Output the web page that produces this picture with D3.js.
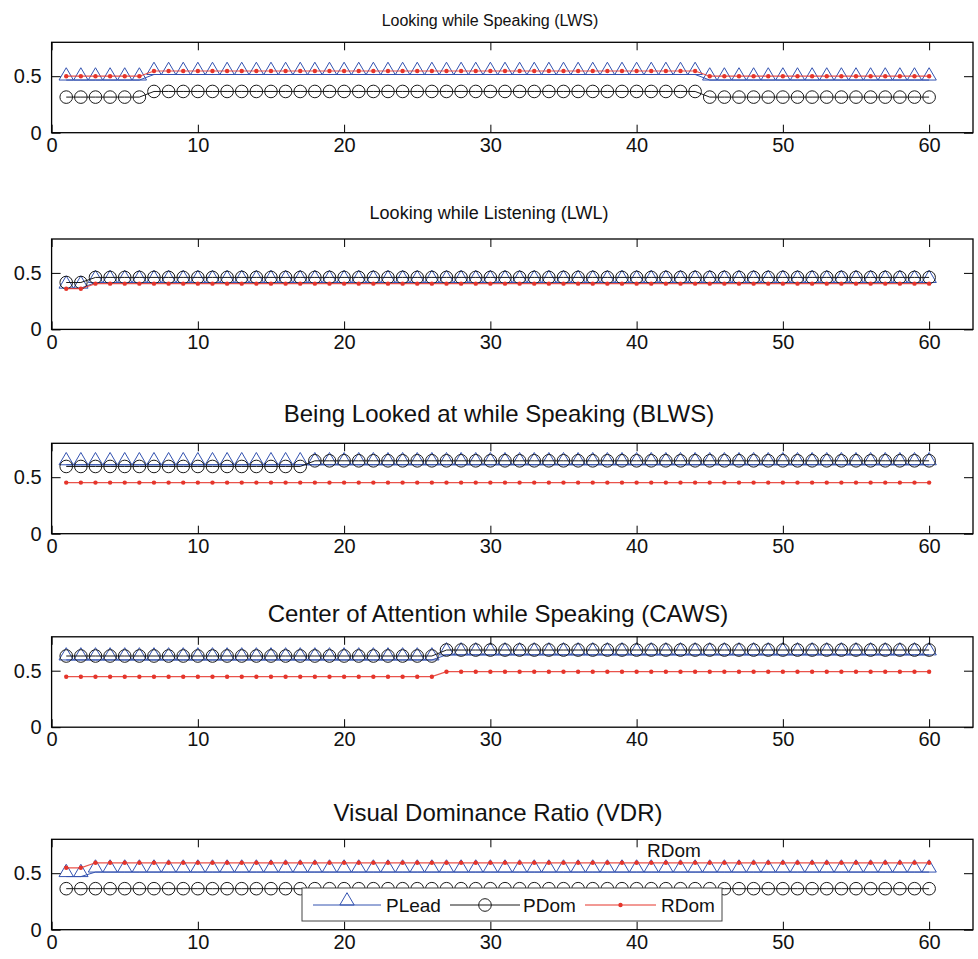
<!DOCTYPE html>
<html>
<head>
<meta charset="utf-8">
<script src="https://cdn.jsdelivr.net/npm/d3@7"></script>
<style>
  body { margin: 0; background: #fff; }
  svg { display: block; }
</style>
</head>
<body>
<script>
// values, stored as runs of [value, count] over x = 1..60
const titles = [
  "Looking while Speaking (LWS)",
  "Looking while Listening (LWL)",
  "Being Looked at while Speaking (BLWS)",
  "Center of Attention while Speaking (CAWS)",
  "Visual Dominance Ratio (VDR)"
];
const xTicks = [0, 10, 20, 30, 40, 50, 60];
const yTicks = [0, 0.5];
const seriesNames = ["PLead", "PDom", "RDom"];

const lwsPLead = [[0.466, 6], [0.515, 38], [0.466, 16]];
const lwsPDom  = [[0.315, 6], [0.365, 38], [0.315, 16]];
const lwsRDom  = [[0.500, 6], [0.546, 38], [0.500, 16]];

const lwlPLead = [[0.365, 2], [0.415, 58]];
const lwlPDom  = [[0.415, 2], [0.460, 58]];
const lwlRDom  = [[0.360, 2], [0.405, 58]];

const blwsPLead = [[0.610, 60]];
const blwsPDom  = [[0.595, 17], [0.645, 43]];
const blwsRDom  = [[0.452, 60]];

const cawsPLead = [[0.595, 26], [0.640, 34]];
const cawsPDom  = [[0.630, 26], [0.683, 34]];
const cawsRDom  = [[0.447, 26], [0.491, 34]];

const vdrPLead = [[0.470, 2], [0.510, 58]];
const vdrPDom  = [[0.363, 60]];
const vdrRDom  = [[0.548, 2], [0.592, 58]];

const panelData = [
  [lwsPLead, lwsPDom, lwsRDom],
  [lwlPLead, lwlPDom, lwlRDom],
  [blwsPLead, blwsPDom, blwsRDom],
  [cawsPLead, cawsPDom, cawsRDom],
  [vdrPLead, vdrPDom, vdrRDom]
];

// layout
const W = 978, H = 959;
const panelTops = [42.3, 239, 443.3, 636.8, 839.3];
const panelH = 90.4;
const left = 51.6, right = 973;
const titleY = [26, 219, 421.5, 621.5, 820.5];
const titleSize = [16, 18, 24, 24, 24];
const titleX = [490, 489, 499, 498, 498];
const font = "'Liberation Sans', Arial, Helvetica, sans-serif";

const blue = "#3352b0", red = "#e5352b", black = "#1a1a1a";

function expand(runs) {
  const out = [];
  let i = 1;
  runs.forEach(([v, n]) => {
    for (let k = 0; k < n; k++) out.push({ i: i++, v: v });
  });
  return out;
}

const svg = d3.select("body").append("svg")
  .attr("width", W)
  .attr("height", H);

const x = d3.scaleLinear().domain([0, 63]).range([left, right]);

function triPath(cx, cy) {
  return `M${cx - 7.2},${cy} L${cx},${cy - 12.3} L${cx + 7.2},${cy} Z`;
}

panelData.forEach((series, p) => {
  const top = panelTops[p];
  const y = d3.scaleLinear().domain([0, 0.8]).range([top + panelH, top]);
  const g = svg.append("g");

  // title
  svg.append("text")
    .attr("x", titleX[p])
    .attr("y", titleY[p])
    .attr("text-anchor", "middle")
    .attr("font-family", font)
    .attr("font-size", titleSize[p] + "px")
    .attr("fill", "#111")
    .text(titles[p]);

  const line = d3.line().x(d => x(d.i)).y(d => y(d.v));

  // PLead
  const pl = expand(series[0]);
  g.append("path").datum(pl)
    .attr("d", line).attr("fill", "none")
    .attr("stroke", blue).attr("stroke-width", 1);
  g.selectAll(".tri").data(pl).join("path")
    .attr("d", d => triPath(x(d.i), y(d.v)))
    .attr("fill", "none").attr("stroke", blue).attr("stroke-width", 1);

  // PDom
  const pd = expand(series[1]);
  g.append("path").datum(pd)
    .attr("d", line).attr("fill", "none")
    .attr("stroke", black).attr("stroke-width", 1);
  g.selectAll(".circ").data(pd).join("circle")
    .attr("cx", d => x(d.i)).attr("cy", d => y(d.v)).attr("r", 6.3)
    .attr("fill", "none").attr("stroke", black).attr("stroke-width", 1);

  // RDom
  const rd = expand(series[2]);
  g.append("path").datum(rd)
    .attr("d", line).attr("fill", "none")
    .attr("stroke", red).attr("stroke-width", 1.2).attr("stroke-opacity", 0.85);
  g.selectAll(".dot").data(rd).join("circle")
    .attr("cx", d => x(d.i)).attr("cy", d => y(d.v)).attr("r", 2.2)
    .attr("fill", red);

  // axes
  const styleAxis = a => {
    a.select(".domain").remove();
    a.selectAll("line").attr("stroke", "#000").attr("stroke-width", 1);
    a.selectAll("text").attr("fill", "#111");
    a.attr("font-family", font).attr("font-size", 20);
  };

  svg.append("g")
    .attr("transform", `translate(0,${top + panelH})`)
    .call(d3.axisBottom(x).tickValues(xTicks).tickSize(-8).tickPadding(5).tickFormat(d => d))
    .call(styleAxis);
  svg.append("g")
    .attr("transform", `translate(0,${top})`)
    .call(d3.axisTop(x).tickValues(xTicks).tickSize(-8).tickFormat(""))
    .call(styleAxis);
  svg.append("g")
    .attr("transform", `translate(${left},0)`)
    .call(d3.axisLeft(y).tickValues(yTicks).tickSize(-9).tickPadding(10).tickFormat(d => String(d)))
    .call(styleAxis);
  svg.append("g")
    .attr("transform", `translate(${right},0)`)
    .call(d3.axisRight(y).tickValues(yTicks).tickSize(-9).tickFormat(""))
    .call(styleAxis);

  // frame
  svg.append("rect")
    .attr("x", left).attr("y", top)
    .attr("width", right - left).attr("height", panelH)
    .attr("fill", "none").attr("stroke", "#000").attr("stroke-width", 1.3);
});

// legend in the last panel
const lg = svg.append("g");
lg.append("rect")
  .attr("x", 302).attr("y", 888).attr("width", 420).attr("height", 33)
  .attr("fill", "#fff").attr("stroke", "#444").attr("stroke-width", 1);

const legY = 905;
const legItems = [
  { name: seriesNames[0], x0: 313, x1: 381, tx: 386, color: blue },
  { name: seriesNames[1], x0: 450, x1: 520, tx: 523, color: black },
  { name: seriesNames[2], x0: 585, x1: 656, tx: 661, color: red }
];
legItems.forEach((d, k) => {
  lg.append("line")
    .attr("x1", d.x0).attr("x2", d.x1).attr("y1", legY).attr("y2", legY)
    .attr("stroke", d.color).attr("stroke-width", 1);
  const cx = (d.x0 + d.x1) / 2;
  if (k === 0) {
    lg.append("path").attr("d", triPath(cx, legY))
      .attr("fill", "none").attr("stroke", blue).attr("stroke-width", 1);
  } else if (k === 1) {
    lg.append("circle").attr("cx", cx).attr("cy", legY).attr("r", 6.3)
      .attr("fill", "none").attr("stroke", black).attr("stroke-width", 1);
  } else {
    lg.append("circle").attr("cx", cx).attr("cy", legY).attr("r", 2.2)
      .attr("fill", red);
  }
  lg.append("text")
    .attr("x", d.tx).attr("y", legY + 7)
    .attr("font-family", font).attr("font-size", "19px")
    .attr("fill", "#111")
    .text(d.name);
});

// stray label above the legend
svg.append("text")
  .attr("x", 647).attr("y", 857)
  .attr("font-family", font).attr("font-size", "19px")
  .attr("fill", "#111")
  .text(seriesNames[2]);
</script>
</body>
</html>
